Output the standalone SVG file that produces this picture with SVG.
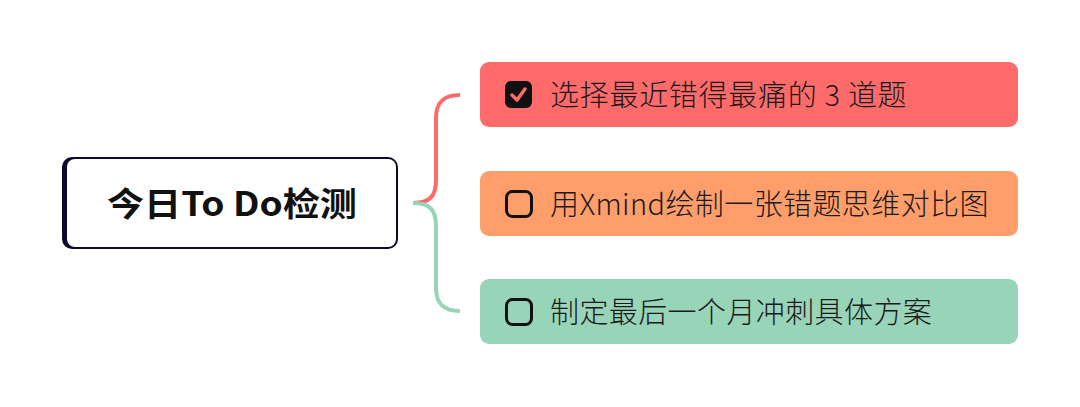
<svg xmlns="http://www.w3.org/2000/svg" width="1080" height="407" viewBox="0 0 1080 407">
<style>
.cjk{font-family:"Noto Sans CJK SC","Noto Sans",sans-serif;}
.item{font-size:29px;fill:#1a1a1a;font-weight:300;letter-spacing:0.4px;}
.root{font-size:33px;font-weight:700;fill:#111;}
.box{stroke:none;}
.cb{fill:none;stroke:#111;stroke-width:3;}
.conn{fill:none;stroke-width:4;stroke-linecap:butt;}
</style>
<rect width="1080" height="407" fill="#ffffff"/>
<g id="connectors">
<path class="conn" stroke="#FF6B6B" d="M413,203 C430,203 436,196 436,180 L436,118 C436,102 444,95 460,95"/>
<path class="conn" stroke="#98D4B8" d="M413,203 C430,203 436,210 436,226 L436,288 C436,304 444,311 460,311"/>
</g>
<g id="root">
<rect x="62" y="157" width="336" height="92" rx="10" fill="#0b0a2e"/>
<rect x="67" y="159" width="329" height="88" rx="8" fill="#ffffff"/>
<text class="cjk root" x="232" y="216" text-anchor="middle" textLength="250" lengthAdjust="spacingAndGlyphs">今日To Do检测</text>
</g>
<g id="item1">
<rect class="box" x="480" y="62" width="538" height="65" rx="9" fill="#FF6B6B"/>
<rect x="505" y="81" width="27" height="27" rx="6" fill="#111"/>
<path d="M512,95 L517,100 L525,89" fill="none" stroke="#FF6B6B" stroke-width="3.5" stroke-linecap="round" stroke-linejoin="round"/>
<text class="cjk item" x="550" y="106" textLength="357" lengthAdjust="spacing">选择最近错得最痛的 3 道题</text>
</g>
<g id="item2">
<rect class="box" x="480" y="171" width="538" height="65" rx="9" fill="#FF9E6B"/>
<rect class="cb" x="506.5" y="191.5" width="25" height="25" rx="6"/>
<text class="cjk item" x="550" y="215">用Xmind绘制一张错题思维对比图</text>
</g>
<g id="item3">
<rect class="box" x="480" y="279" width="538" height="65" rx="9" fill="#98D4B8"/>
<rect class="cb" x="506.5" y="299.5" width="25" height="25" rx="6"/>
<text class="cjk item" x="550" y="323">制定最后一个月冲刺具体方案</text>
</g>
</svg>
